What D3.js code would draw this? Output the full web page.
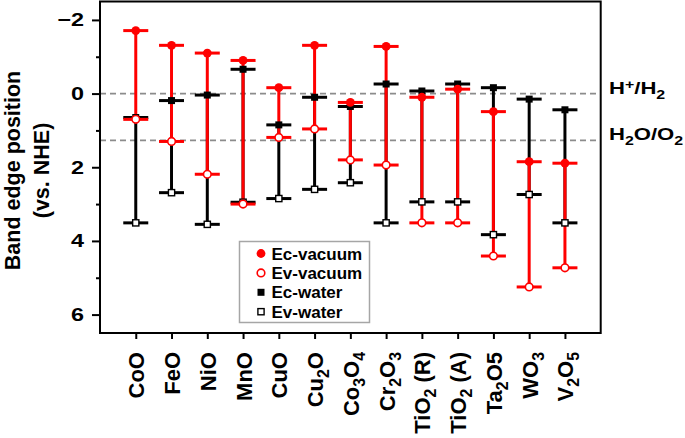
<!DOCTYPE html>
<html><head><meta charset="utf-8">
<script src="https://cdn.jsdelivr.net/npm/d3@7"></script>
<style>
body{margin:0;background:#fff}
svg{display:block}
text{font-family:"Liberation Sans",Arial,Helvetica,sans-serif;font-weight:bold;fill:#000}
</style>
</head><body>
<svg id="c" width="685" height="438"></svg>
<script>
// ---------- data ----------
const categories = ["CoO","FeO","NiO","MnO","CuO","Cu_2O","Co_3O_4","Cr_2O_3","TiO_2 (R)","TiO_2 (A)","Ta_2O5","WO_3","V_2O_5"];
const ecVacuum = [-1.71,-1.31,-1.10,-0.90,-0.16,-1.31,0.24,-1.28,0.10,-0.12,0.49,1.85,1.89];
const evVacuum = [0.70,1.30,2.19,3.00,1.19,0.96,1.80,1.94,3.51,3.51,4.41,5.25,4.73];
const ecWater  = [0.65,0.19,0.04,-0.66,0.85,0.10,0.35,-0.26,-0.07,-0.26,-0.16,0.15,0.44];
const evWater  = [3.51,2.69,3.55,2.95,2.85,2.60,2.42,3.51,2.94,2.94,3.83,2.74,3.51];
const yMajorTicks = [-2,0,2,4,6];
const yMinorTicks = [-1,1,3,5];
const refValues = [0,1.27];
const refLabels = ["H^+/H_2","H_2O/O_2"];
const legendLabels = ["Ec-vacuum","Ev-vacuum","Ec-water","Ev-water"];
const yTitle = ["Band edge position","(vs. NHE)"];

// ---------- setup ----------
const svg = d3.select("#c");
svg.append("rect").attr("width",685).attr("height",438).attr("fill","#fff");
const L=100, R=600.7, T=1.5, B=333;
const x = d3.scalePoint().domain(categories).range([L,R]).padding(1);
const y = d3.scaleLinear().domain([-2.5,6.5]).range([T,B]);
const RED="#ff0000";

function parse(s){
  const segs=[]; let i=0, cur="";
  while(i<s.length){
    const c=s[i];
    if(c==="_"||c==="^"){
      if(cur){segs.push({t:cur,m:0});cur="";}
      segs.push({t:s[i+1],m:c==="_"?1:-1}); i+=2;
    } else {cur+=c;i++;}
  }
  if(cur) segs.push({t:cur,m:0});
  return segs;
}
function rich(textSel, s, fs, shift){
  let off=0;
  parse(s).forEach(sg=>{
    const target = sg.m*shift;
    textSel.append("tspan").text(sg.t)
      .attr("font-size", sg.m? fs*0.72 : fs)
      .attr("dy", target-off);
    off = target;
  });
}

// reference dashed lines
refValues.forEach((v,k)=>{
  svg.append("line").attr("x1",L).attr("x2",R).attr("y1",y(v)).attr("y2",y(v))
    .attr("stroke","#8c8c8c").attr("stroke-width",1.6).attr("stroke-dasharray","6,4");
  const t = svg.append("text").attr("transform",`translate(609,${y(v)}) scale(1.3,1)`)
    .attr("dy","0.36em").attr("font-size",17);
  rich(t, refLabels[k], 17, 5);
});

// error bars
const capW=12.5;
function bars(top, bot, color){
  const g=svg.append("g").attr("stroke",color).attr("stroke-width",3);
  categories.forEach((c,i)=>{
    const cx=x(c);
    g.append("line").attr("x1",cx).attr("x2",cx).attr("y1",y(top[i])).attr("y2",y(bot[i]));
    [top[i],bot[i]].forEach(v=>{
      g.append("line").attr("x1",cx-capW).attr("x2",cx+capW).attr("y1",y(v)).attr("y2",y(v));
    });
  });
}
bars(ecWater, evWater, "#000");
bars(ecVacuum, evVacuum, RED);

// markers
function square(g,cx,cy,filled){
  const s=filled?7:6.2;
  g.append("rect").attr("x",cx-s/2).attr("y",cy-s/2).attr("width",s).attr("height",s)
    .attr("fill",filled?"#000":"#fff").attr("stroke","#000").attr("stroke-width",filled?0:1.4);
}
function circle(g,cx,cy,filled){
  g.append("circle").attr("cx",cx).attr("cy",cy).attr("r",filled?4.4:3.8)
    .attr("fill",filled?RED:"#fff").attr("stroke",RED).attr("stroke-width",filled?0:1.6);
}
const gm=svg.append("g");
categories.forEach((c,i)=>{ square(gm,x(c),y(ecWater[i]),true); square(gm,x(c),y(evWater[i]),false); });
categories.forEach((c,i)=>{ circle(gm,x(c),y(ecVacuum[i]),true); circle(gm,x(c),y(evVacuum[i]),false); });

// frame
svg.append("rect").attr("x",L).attr("y",T).attr("width",R-L).attr("height",B-T)
  .attr("fill","none").attr("stroke","#000").attr("stroke-width",2);

// y axis ticks
const ya = svg.append("g").attr("transform",`translate(${L},0)`)
  .call(d3.axisLeft(y).tickValues(yMajorTicks).tickSize(8).tickFormat(""));
const ym = svg.append("g").attr("transform",`translate(${L},0)`)
  .call(d3.axisLeft(y).tickValues(yMinorTicks).tickSize(4).tickFormat(""));
[ya,ym].forEach(g=>{g.select(".domain").remove(); g.selectAll("line").attr("stroke-width",2);});
yMajorTicks.forEach(v=>{
  svg.append("text").attr("transform",`translate(84,${y(v)}) scale(1.3,1)`)
    .attr("text-anchor","end").attr("dy","0.36em").attr("font-size",18)
    .text(String(v).replace("-","\u2212"));
});

// x axis ticks + labels
const xa = svg.append("g").attr("transform",`translate(0,${B})`)
  .call(d3.axisBottom(x).tickSize(6).tickFormat(""));
xa.select(".domain").remove(); xa.selectAll("line").attr("stroke-width",2);
categories.forEach(c=>{
  const t=svg.append("text").attr("transform",`translate(${x(c)},352) rotate(-90)`)
    .attr("text-anchor","end").attr("y",8.5).attr("font-size",22);
  rich(t,c,22,6);
});

// y title
yTitle.forEach((s,k)=>{
  svg.append("text").attr("transform",`translate(${k?48.5:19.5},170.5) rotate(-90)`)
    .attr("text-anchor","middle").attr("font-size",21.5).text(s);
});

// legend
const lg=svg.append("g");
lg.append("rect").attr("x",239.5).attr("y",241.5).attr("width",130).attr("height",81)
  .attr("fill","#fff").attr("stroke","#a6a6a6").attr("stroke-width",1.5);
legendLabels.forEach((s,i)=>{
  const cy=253.5+i*19.4;
  if(i===0) circle(lg,261,cy,true);
  if(i===1) circle(lg,261,cy,false);
  if(i===2) square(lg,261,cy,true);
  if(i===3) square(lg,261,cy,false);
  lg.append("text").attr("x",271.5).attr("y",cy).attr("dy","0.36em").attr("font-size",17).text(s);
});
</script>
</body></html>
